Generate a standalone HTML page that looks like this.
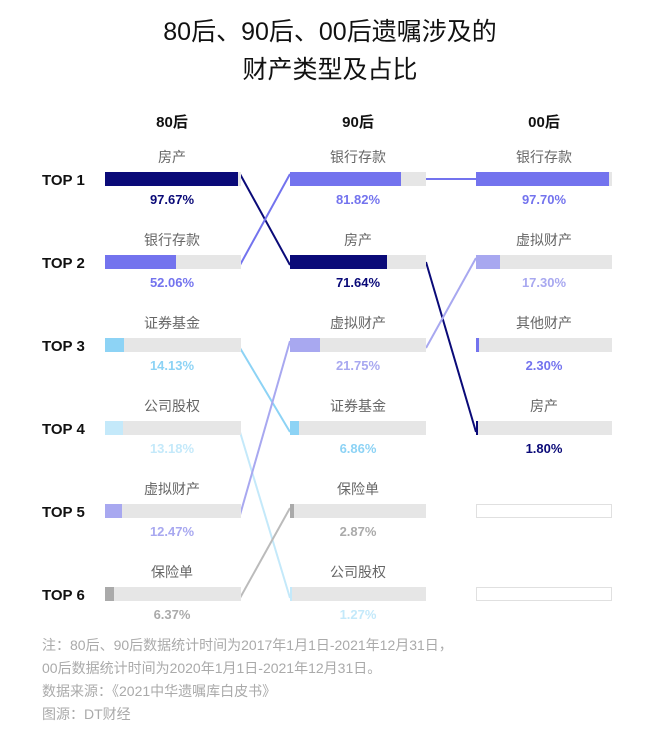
<!DOCTYPE html>
<html><head><meta charset="utf-8"><style>
body{margin:0;background:#fff;width:660px;height:728px;overflow:hidden;font-family:"Liberation Sans","Noto Sans CJK SC",sans-serif;}
</style></head><body>
<svg width="660" height="728" xmlns="http://www.w3.org/2000/svg" font-family="Liberation Sans, Noto Sans CJK SC, sans-serif">
<text x="330" y="40" text-anchor="middle" font-size="25" fill="#111">80后、90后、00后遗嘱涉及的</text>
<text x="330" y="78" text-anchor="middle" font-size="25" fill="#111">财产类型及占比</text>
<g font-size="15" font-weight="bold" text-anchor="middle" fill="#111">
<text x="172" y="127">80后</text><text x="358" y="127">90后</text><text x="544" y="127">00后</text>
</g>
<g font-size="15" font-weight="bold" fill="#111">
<text x="42" y="185">TOP 1</text><text x="42" y="268">TOP 2</text><text x="42" y="351">TOP 3</text>
<text x="42" y="434">TOP 4</text><text x="42" y="517">TOP 5</text><text x="42" y="600">TOP 6</text>
</g>
<!-- lines -->
<g stroke-width="2" fill="none">
<line x1="240" y1="174" x2="290" y2="265" stroke="#0a0a78"/>
<line x1="240" y1="265" x2="290" y2="174" stroke="#7373ee"/>
<line x1="240" y1="348" x2="290" y2="432" stroke="#8dd3f5"/>
<line x1="240" y1="432" x2="290" y2="598" stroke="#c4e9fa"/>
<line x1="240" y1="515" x2="290" y2="341" stroke="#a8a8f0"/>
<line x1="240" y1="598" x2="290" y2="508" stroke="#bbb"/>
<line x1="426" y1="179" x2="476" y2="179" stroke="#7373ee"/>
<line x1="426" y1="262" x2="476" y2="432" stroke="#0a0a78"/>
<line x1="426" y1="348" x2="476" y2="258" stroke="#a8a8f0"/>
</g>
<g font-size="14" text-anchor="middle" fill="#666">
<!-- col1 -->
<text x="172" y="162">房产</text><rect x="105" y="172" width="136" height="14" fill="#e6e6e6"/><rect x="105" y="172" width="133" height="14" fill="#0a0a78"/>
<text x="172" y="245">银行存款</text><rect x="105" y="255" width="136" height="14" fill="#e6e6e6"/><rect x="105" y="255" width="71" height="14" fill="#7373ee"/>
<text x="172" y="328">证券基金</text><rect x="105" y="338" width="136" height="14" fill="#e6e6e6"/><rect x="105" y="338" width="19" height="14" fill="#8dd3f5"/>
<text x="172" y="411">公司股权</text><rect x="105" y="421" width="136" height="14" fill="#e6e6e6"/><rect x="105" y="421" width="18" height="14" fill="#c4e9fa"/>
<text x="172" y="494">虚拟财产</text><rect x="105" y="504" width="136" height="14" fill="#e6e6e6"/><rect x="105" y="504" width="17" height="14" fill="#a8a8f0"/>
<text x="172" y="577">保险单</text><rect x="105" y="587" width="136" height="14" fill="#e6e6e6"/><rect x="105" y="587" width="9" height="14" fill="#aaa"/>
<!-- col2 -->
<text x="358" y="162">银行存款</text><rect x="290" y="172" width="136" height="14" fill="#e6e6e6"/><rect x="290" y="172" width="111" height="14" fill="#7373ee"/>
<text x="358" y="245">房产</text><rect x="290" y="255" width="136" height="14" fill="#e6e6e6"/><rect x="290" y="255" width="97" height="14" fill="#0a0a78"/>
<text x="358" y="328">虚拟财产</text><rect x="290" y="338" width="136" height="14" fill="#e6e6e6"/><rect x="290" y="338" width="30" height="14" fill="#a8a8f0"/>
<text x="358" y="411">证券基金</text><rect x="290" y="421" width="136" height="14" fill="#e6e6e6"/><rect x="290" y="421" width="9" height="14" fill="#8dd3f5"/>
<text x="358" y="494">保险单</text><rect x="290" y="504" width="136" height="14" fill="#e6e6e6"/><rect x="290" y="504" width="4" height="14" fill="#aaa"/>
<text x="358" y="577">公司股权</text><rect x="290" y="587" width="136" height="14" fill="#e6e6e6"/><rect x="290" y="587" width="2" height="14" fill="#c4e9fa"/>
<!-- col3 -->
<text x="544" y="162">银行存款</text><rect x="476" y="172" width="136" height="14" fill="#e6e6e6"/><rect x="476" y="172" width="133" height="14" fill="#7373ee"/>
<text x="544" y="245">虚拟财产</text><rect x="476" y="255" width="136" height="14" fill="#e6e6e6"/><rect x="476" y="255" width="24" height="14" fill="#a8a8f0"/>
<text x="544" y="328">其他财产</text><rect x="476" y="338" width="136" height="14" fill="#e6e6e6"/><rect x="476" y="338" width="3" height="14" fill="#7373ee"/>
<text x="544" y="411">房产</text><rect x="476" y="421" width="136" height="14" fill="#e6e6e6"/><rect x="476" y="421" width="2" height="14" fill="#0a0a78"/>
<rect x="476.5" y="504.5" width="135" height="13" fill="none" stroke="#e0e0e0"/>
<rect x="476.5" y="587.5" width="135" height="13" fill="none" stroke="#e0e0e0"/>
</g>
<g font-size="13" font-weight="bold" text-anchor="middle">
<text x="172" y="204" fill="#0a0a78">97.67%</text>
<text x="172" y="287" fill="#7373ee">52.06%</text>
<text x="172" y="370" fill="#8dd3f5">14.13%</text>
<text x="172" y="453" fill="#c4e9fa">13.18%</text>
<text x="172" y="536" fill="#a8a8f0">12.47%</text>
<text x="172" y="619" fill="#aaa">6.37%</text>
<text x="358" y="204" fill="#7373ee">81.82%</text>
<text x="358" y="287" fill="#0a0a78">71.64%</text>
<text x="358" y="370" fill="#a8a8f0">21.75%</text>
<text x="358" y="453" fill="#8dd3f5">6.86%</text>
<text x="358" y="536" fill="#aaa">2.87%</text>
<text x="358" y="619" fill="#c4e9fa">1.27%</text>
<text x="544" y="204" fill="#7373ee">97.70%</text>
<text x="544" y="287" fill="#a8a8f0">17.30%</text>
<text x="544" y="370" fill="#7373ee">2.30%</text>
<text x="544" y="453" fill="#0a0a78">1.80%</text>
</g>
<g font-size="14" fill="#aaa">
<text x="42" y="650">注：80后、90后数据统计时间为2017年1月1日-2021年12月31日，</text>
<text x="42" y="673">00后数据统计时间为2020年1月1日-2021年12月31日。</text>
<text x="42" y="696">数据来源：《2021中华遗嘱库白皮书》</text>
<text x="42" y="719">图源：DT财经</text>
</g>
</svg>
</body></html>
